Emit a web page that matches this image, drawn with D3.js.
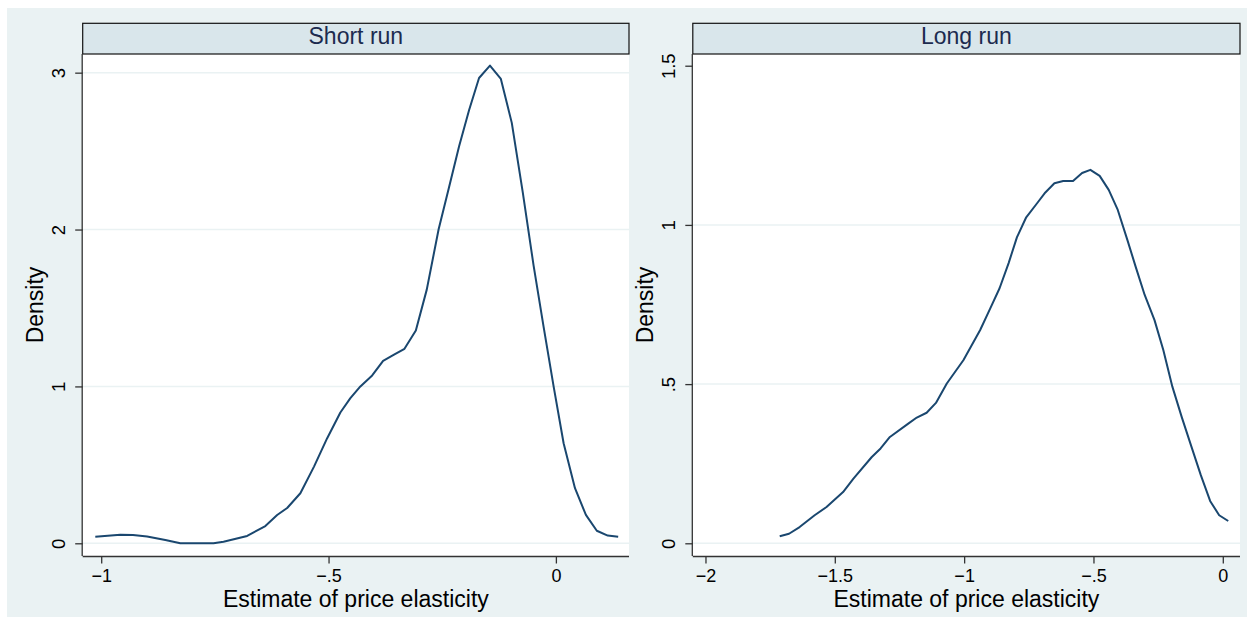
<!DOCTYPE html>
<html><head><meta charset="utf-8">
<script src="https://cdn.jsdelivr.net/npm/d3@7/dist/d3.min.js"></script>
<style>
html,body{margin:0;padding:0;background:#fff;}
svg{display:block;font-family:"Liberation Sans",Arial,sans-serif;}
</style></head>
<body>
<svg id="chart" width="1253" height="626"></svg>
<script>
// ---- data ----
const panelTitles = ["Short run", "Long run"];
const xTitle = "Estimate of price elasticity";
const yTitle = "Density";

const shortX = [-1.013,-0.958,-0.93,-0.899,-0.859,-0.826,-0.79,-0.753,-0.731,-0.679,-0.639,-0.613,-0.591,-0.562,-0.532,-0.503,-0.474,-0.452,-0.430,-0.404,-0.380,-0.356,-0.333,-0.308,-0.284,-0.258,-0.235,-0.213,-0.191,-0.169,-0.145,-0.121,-0.097,-0.073,-0.049,-0.027,-0.005,0.017,0.042,0.066,0.090,0.114,0.137];
const shortY = [0.042,0.055,0.053,0.043,0.021,0.0,0.0,0.0,0.01,0.047,0.11,0.18,0.225,0.319,0.489,0.670,0.834,0.925,1.0,1.070,1.163,1.202,1.240,1.357,1.617,2.0,2.27,2.53,2.76,2.966,3.045,2.96,2.68,2.24,1.77,1.38,1.0,0.638,0.351,0.181,0.080,0.049,0.042];

const longX = [-1.713,-1.677,-1.636,-1.578,-1.532,-1.468,-1.428,-1.357,-1.323,-1.287,-1.216,-1.183,-1.145,-1.109,-1.067,-1.003,-0.938,-0.899,-0.863,-0.828,-0.796,-0.760,-0.718,-0.686,-0.651,-0.617,-0.579,-0.544,-0.512,-0.476,-0.441,-0.406,-0.369,-0.337,-0.302,-0.264,-0.230,-0.195,-0.159,-0.121,-0.085,-0.049,-0.014,0.021];
const longY = [0.022,0.030,0.051,0.088,0.114,0.161,0.203,0.271,0.298,0.334,0.376,0.395,0.41,0.441,0.502,0.575,0.670,0.738,0.801,0.880,0.961,1.024,1.068,1.102,1.131,1.138,1.138,1.163,1.173,1.154,1.110,1.047,0.953,0.869,0.780,0.701,0.607,0.492,0.397,0.303,0.214,0.133,0.088,0.070];

const shortXTicks = [-1,-0.5,0];
const shortYTicks = [0,1,2,3];
const longXTicks = [-2,-1.5,-1,-0.5,0];
const longYTicks = [0,0.5,1,1.5];

// ---- layout ----
const svg = d3.select("#chart");
const BG = "#eaf2f3", STRIP = "#d9e6eb", LINE = "#1a476f", GRID = "#eaf2f3";
svg.append("rect").attr("x",7).attr("y",8).attr("width",1240).attr("height",609).attr("fill",BG);

function fmt(v){
  let s = String(+v.toFixed(3));
  s = s.replace(/^0\./,".").replace(/^-0\./,"-.");
  return s.replace("-","\u2212");
}

const panels = [
  {title:panelTitles[0], xs:shortX, ys:shortY, xt:shortXTicks, yt:shortYTicks,
   left:82.7, right:629, xdom:[-1.0407,0.1608], ydom:[-0.081,3.119]},
  {title:panelTitles[1], xs:longX, ys:longY, xt:longXTicks, yt:longYTicks,
   left:692.8, right:1240, xdom:[-2.049,0.0665], ydom:[-0.0399,1.5368]}
];
const plotTop = 54, plotBottom = 556, stripTop = 23.3;

panels.forEach(p=>{
  const g = svg.append("g");
  const x = d3.scaleLinear().domain(p.xdom).range([p.left,p.right]);
  const y = d3.scaleLinear().domain(p.ydom).range([plotBottom,plotTop]);
  g.append("rect").attr("x",p.left).attr("y",plotTop).attr("width",p.right-p.left).attr("height",plotBottom-plotTop).attr("fill","#fff");
  g.selectAll(".grid").data(p.yt.filter(d=>y(d)-plotTop>15)).enter().append("line")
    .attr("x1",p.left).attr("x2",p.right).attr("y1",d=>y(d)).attr("y2",d=>y(d))
    .attr("stroke",GRID).attr("stroke-width",1.5);
  g.append("rect").attr("x",p.left).attr("y",stripTop).attr("width",p.right-p.left).attr("height",plotTop-stripTop)
    .attr("fill",STRIP).attr("stroke","#111").attr("stroke-width",1.2);
  g.append("text").attr("x",(p.left+p.right)/2).attr("y",44).attr("text-anchor","middle")
    .attr("font-size",23).attr("fill","#1c2b4f").text(p.title);
  const pts = p.xs.map((v,i)=>[v,p.ys[i]]);
  g.append("path").datum(pts).attr("fill","none").attr("stroke",LINE).attr("stroke-width",2)
    .attr("stroke-linejoin","round")
    .attr("d",d3.line().x(d=>x(d[0])).y(d=>y(d[1])));
  const xa = g.append("g").attr("transform",`translate(0,${plotBottom})`)
    .call(d3.axisBottom(x).tickValues(p.xt).tickFormat(fmt).tickSizeOuter(0).tickSize(7.5).tickPadding(5));
  xa.select(".domain").attr("stroke","#333").attr("stroke-width",1.3).attr("d",`M${p.left},0.5H${p.right}`);
  xa.selectAll(".tick line").attr("stroke","#333").attr("stroke-width",1.3);
  xa.selectAll(".tick text").attr("font-size",18).attr("fill","#000").attr("font-family","Liberation Sans, Arial, sans-serif");
  xa.selectAll(".tick text").attr("dy",null).attr("y",25.5);
  const ya = g.append("g").attr("transform",`translate(${p.left},0)`)
    .call(d3.axisLeft(y).tickValues(p.yt).tickFormat(fmt).tickSizeOuter(0).tickSize(7.5));
  ya.select(".domain").attr("stroke","#333").attr("stroke-width",1.3).attr("d",`M-0.5,${plotTop}V${plotBottom}`);
  ya.selectAll(".tick line").attr("stroke","#333").attr("stroke-width",1.3);
  ya.selectAll(".tick text").attr("font-size",18.5).attr("fill","#000")
    .attr("font-family","Liberation Sans, Arial, sans-serif")
    .attr("x",null).attr("dy",null).attr("text-anchor","middle")
    .attr("transform","translate(-18,0) rotate(-90)");
  g.append("text").attr("text-anchor","middle").attr("font-size",23).attr("fill","#000")
    .attr("transform",`translate(${p.left-39.5},${(plotTop+plotBottom)/2}) rotate(-90)`).text(yTitle);
  g.append("text").attr("x",(p.left+p.right)/2).attr("y",606.5).attr("text-anchor","middle")
    .attr("font-size",23).attr("fill","#000").text(xTitle);
});
</script>
</body></html>
